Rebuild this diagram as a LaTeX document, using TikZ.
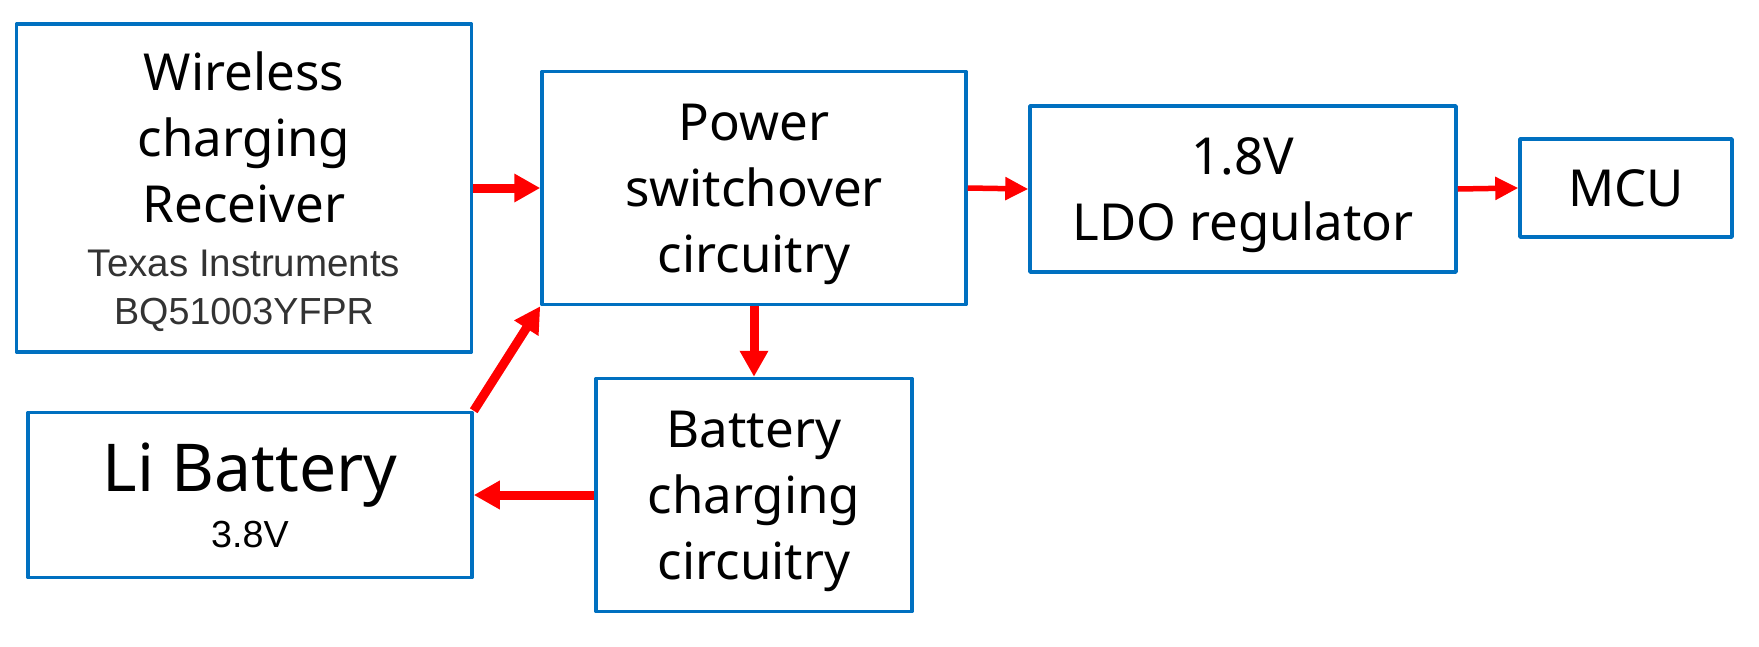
\documentclass[tikz,border=0pt]{standalone}
\usepackage{fontspec}
\setmainfont{Noto Sans}
\newfontfamily\subfont{Liberation Sans}
\usepackage{xcolor}
\usetikzlibrary{arrows.meta}

\definecolor{boxblue}{HTML}{0070C0}
\definecolor{subgray}{HTML}{333333}

\tikzset{
  block/.style={draw=boxblue, line width=3.5pt, line join=round, align=center,
    inner sep=0pt, text depth=0pt, font=\fontsize{51}{66}\selectfont},
  feed/.style={draw=red, line width=9pt, -{Triangle[length=26pt,width=27pt]}},
  thinfeed/.style={draw=red, line width=5.5pt, -{Triangle[length=23pt,width=22pt]}},
}

\begin{document}
\begin{tikzpicture}[x=1pt, y=-1pt]
\useasboundingbox (0,0) rectangle (1759,646);

\node[block, text depth=-8pt, minimum width=455pt, minimum height=328pt] (wlc) at (244,188)
  {Wireless\\charging\\Receiver\\[-12pt]
   {\subfont\fontsize{38.5}{48}\selectfont\color{subgray}Texas Instruments}\\[-18pt]
   {\subfont\fontsize{37.7}{48}\selectfont\color{subgray}BQ51003YFPR}};
\node[block, minimum width=424pt, minimum height=233pt] (psw) at (754,188)
  {Power\\switchover\\circuitry};
\node[block, minimum width=426pt, minimum height=166pt] (ldo) at (1243,189)
  {1.8V\\LDO regulator};
\node[block, minimum width=212pt, minimum height=98pt] (mcu) at (1626,188)
  {MCU};
\node[block, text depth=-5pt, minimum width=444pt, minimum height=165pt] (bat) at (250,495)
  {{\fontsize{66}{80}\selectfont Li Battery}\\[-10pt]
   {\subfont\fontsize{37.7}{48}\selectfont 3.8V}};
\node[block, minimum width=316pt, minimum height=233pt] (chg) at (754,495)
  {Battery\\charging\\circuitry};

% power flow
\draw[feed] (wlc.east) -- (psw.west);
\draw[thinfeed] (psw.east) -- (ldo.west);
\draw[thinfeed] (ldo.east) -- (mcu.west);
\draw[feed] (psw.south) -- (chg.north);
\draw[feed] (chg.west) -- (bat.east);
\draw[feed] (bat.north east) -- (psw.south west);
\end{tikzpicture}
\end{document}
